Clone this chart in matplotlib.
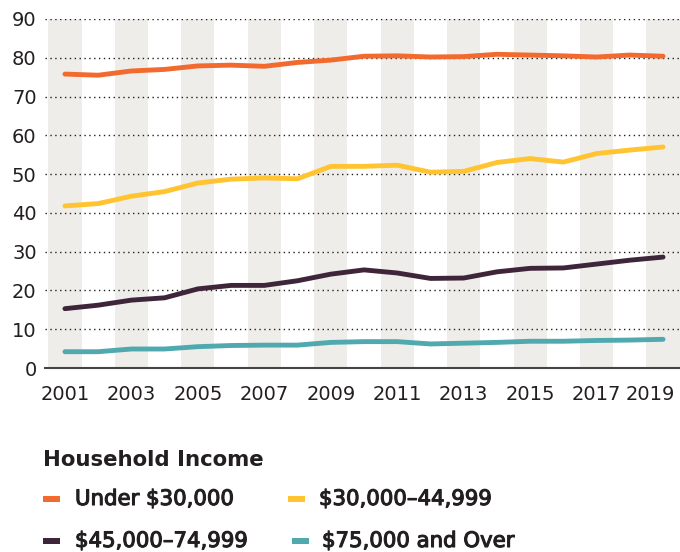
import matplotlib
matplotlib.use("Agg")
import matplotlib.pyplot as plt
import matplotlib.patheffects as pe
from matplotlib.patches import Rectangle
from matplotlib.transforms import ScaledTranslation

years = list(range(2001, 2020))
series_names = ["Under $30,000", "$30,000\u201344,999", "$45,000\u201374,999", "$75,000 and Over"]
under_30k = [75.8, 75.5, 76.6, 77.0, 77.9, 78.1, 77.8, 78.8, 79.4, 80.4, 80.5, 80.2, 80.3, 80.9, 80.7, 80.5, 80.2, 80.7, 80.4]
k30_45 = [41.8, 42.4, 44.3, 45.5, 47.7, 48.7, 49.0, 48.8, 52.0, 52.0, 52.3, 50.5, 50.7, 53.0, 54.0, 53.1, 55.3, 56.2, 57.0]
k45_75 = [15.3, 16.2, 17.5, 18.1, 20.4, 21.3, 21.3, 22.5, 24.2, 25.3, 24.5, 23.1, 23.2, 24.8, 25.7, 25.8, 26.8, 27.8, 28.6]
k75_plus = [4.2, 4.2, 4.9, 4.9, 5.5, 5.8, 5.9, 5.9, 6.6, 6.8, 6.8, 6.2, 6.4, 6.6, 6.9, 6.9, 7.1, 7.2, 7.4]
colors = ["#F26A2E", "#FFC430", "#3E2539", "#4FA9AF"]
yticks = [0, 10, 20, 30, 40, 50, 60, 70, 80, 90]
xtick_years = list(range(2001, 2020, 2))
legend_title = "Household Income"

plt.rcParams['font.family'] = ['DejaVu Sans']
txt = "#231F20"
fs_tick = 14.0
fs_leg = 15.3

fig = plt.figure(figsize=(6.8, 5.52), dpi=100)
ax = fig.add_axes([45/680, 1 - 368/552, 1 - 45/680, (368 - 19)/552])

ax.set_xlim(2000.40, 2019.51)
ax.set_ylim(0, 90)

for y in years:
    if (y - 2001) % 2 == 0:
        ax.axvspan(y - 0.5, y + 0.5, color="#EFEDEA", lw=0, zorder=0)

for yv in yticks[1:]:
    ax.axhline(yv, color="#231F20", lw=1.0, ls=(0, (1, 2.5)), zorder=1)

for vals, c, name in zip([under_30k, k30_45, k45_75, k75_plus], colors, series_names):
    ax.plot(years, vals, color=c, lw=3.5, solid_capstyle="round", solid_joinstyle="round", zorder=3, label=name)

for s in ["top", "right", "left"]:
    ax.spines[s].set_visible(False)
ax.spines["bottom"].set_color("#444444")
ax.spines["bottom"].set_linewidth(1.5)
ax.spines["bottom"].set_zorder(4)

ax.set_yticks(yticks)
ax.set_yticklabels([str(v) for v in yticks], fontsize=fs_tick, color=txt)
ax.set_xticks(xtick_years)
ax.set_xticklabels([str(v) for v in xtick_years], fontsize=fs_tick, color=txt)
ax.tick_params(axis="both", length=0)
ax.tick_params(axis="y", pad=6)
ax.tick_params(axis="x", pad=12)
last = ax.get_xticklabels()[-1]
last.set_transform(last.get_transform() + ScaledTranslation(-13/100, 0, fig.dpi_scale_trans))

# Legend
fig.text(43/680, 1 - 460/552, legend_title, fontsize=fs_leg, fontweight="bold", color=txt, va="center", ha="left")
pos = [(43, 75, 499), (288, 319, 499), (43, 75, 541), (292, 322, 541)]
for (mx, tx, yy), c, name in zip(pos, colors, series_names):
    fig.patches.append(Rectangle((mx/680, 1 - (yy + 3)/552), 17/680, 6/552, transform=fig.transFigure, color=c, lw=0))
    fig.text(tx/680, 1 - yy/552, name, fontsize=fs_leg, color=txt, va="center", ha="left",
             path_effects=[pe.withStroke(linewidth=0.8, foreground=txt)])

fig.savefig("out.png", dpi=100)
